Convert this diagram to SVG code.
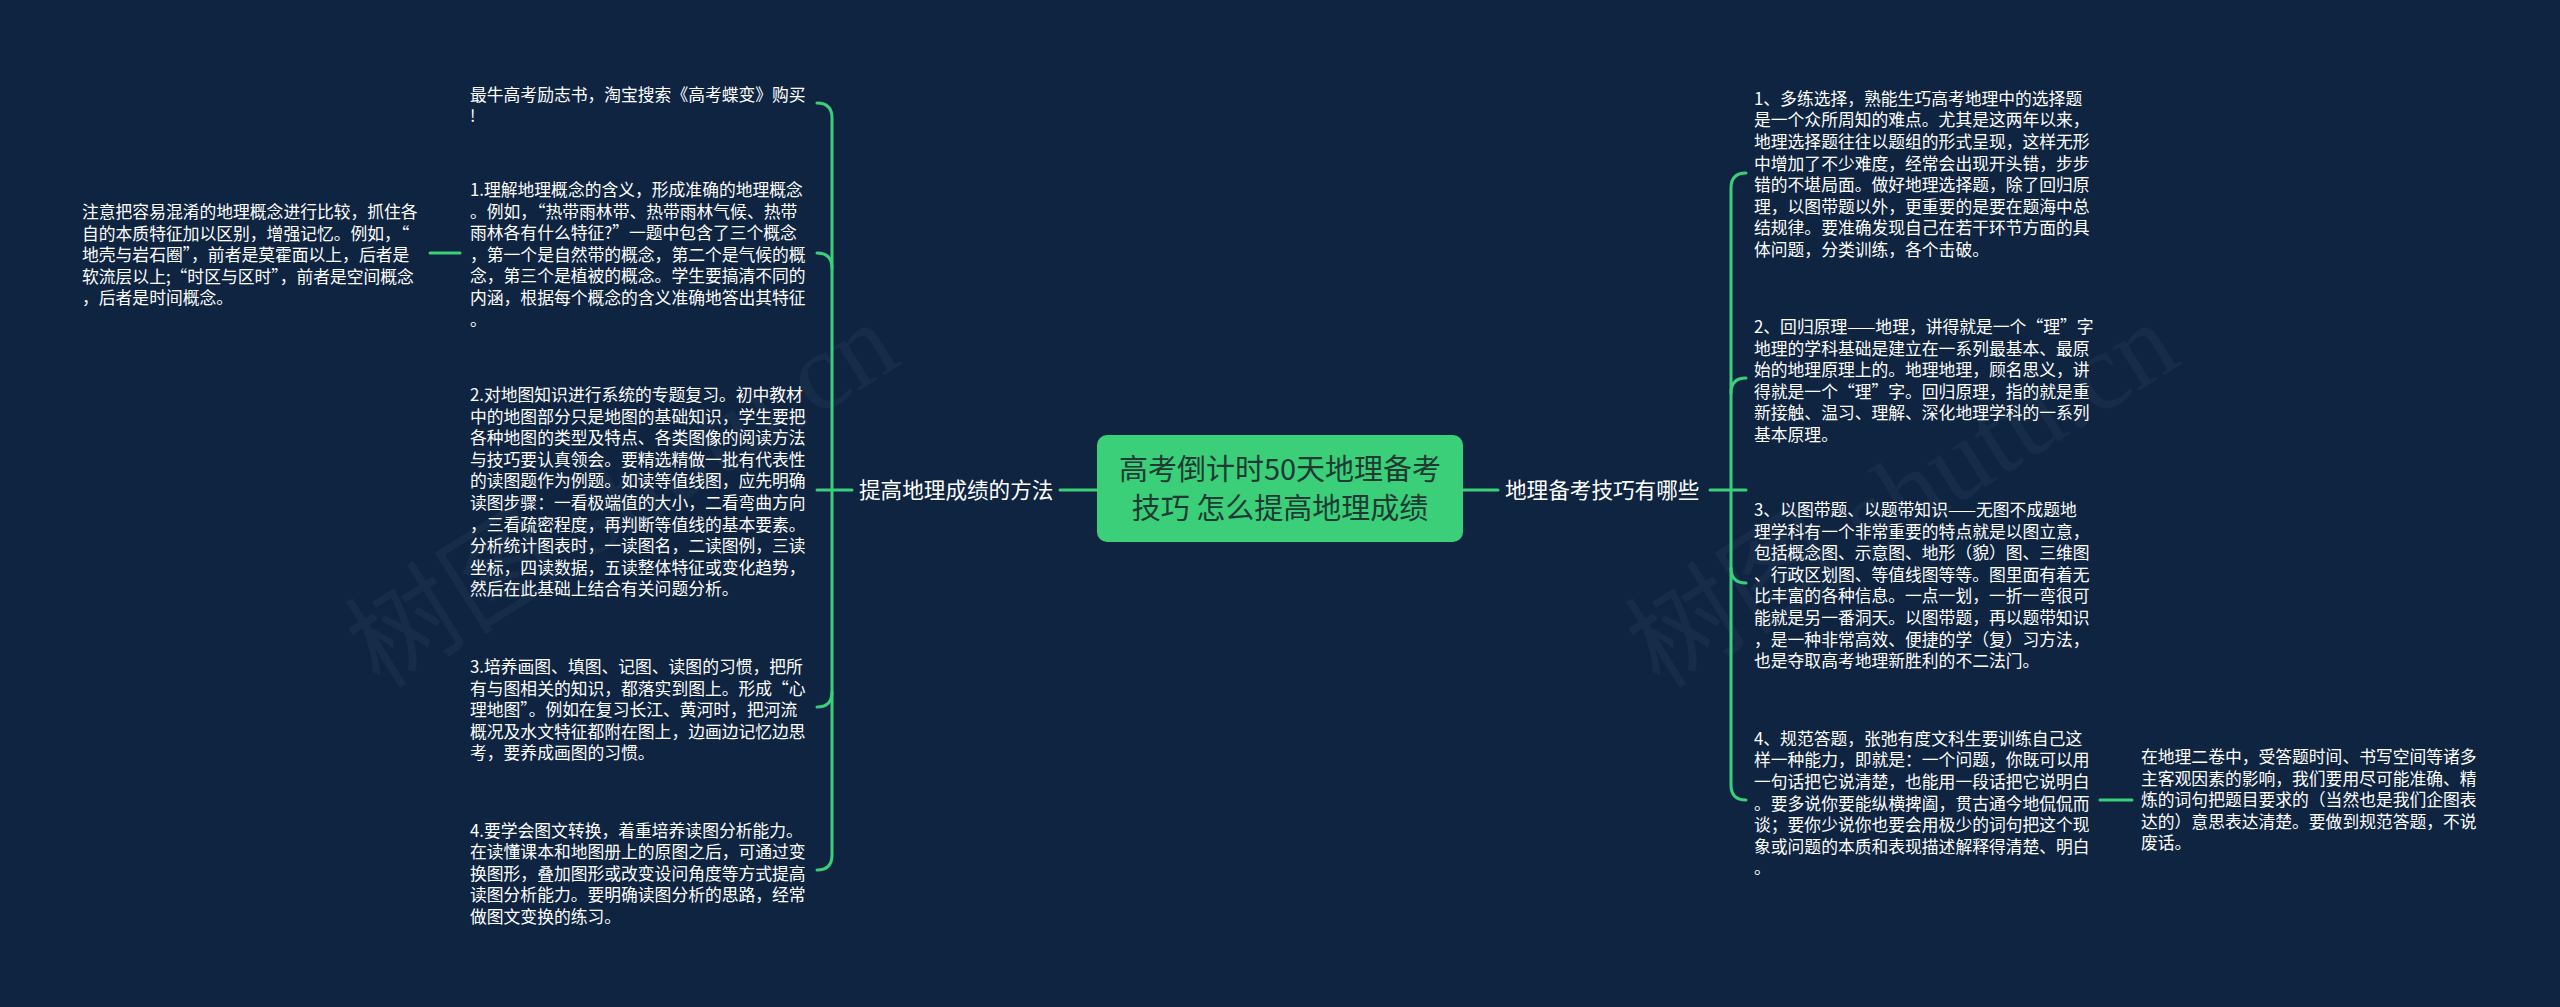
<svg xmlns="http://www.w3.org/2000/svg" width="2560" height="1007" viewBox="0 0 2560 1007">
<style>
.bg{fill:#0e2441}
.ln{fill:none;stroke:#3bcf79;stroke-width:3;stroke-linecap:round}
.t{font-family:"Noto Sans CJK SC","Noto Sans",sans-serif;font-size:16.8px;fill:#ffffff}
.lb{font-family:"Noto Sans CJK SC","Noto Sans",sans-serif;font-size:21.6px;fill:#ffffff}
.ct{font-family:"Noto Sans CJK SC","Noto Sans",sans-serif;font-size:29px;fill:#1e3a33;text-anchor:middle}
.wm{font-family:"Liberation Serif","Noto Sans CJK SC",serif;font-size:110px;fill:#ffffff;fill-opacity:0.04}
</style>
<rect class="bg" x="0" y="0" width="2560" height="1007"/>
<g id="watermarks">
<text class="wm" transform="translate(380,690) rotate(-32)">树图 shutu.cn</text>
<text class="wm" transform="translate(1660,690) rotate(-32)">树图 shutu.cn</text>
</g>
<g id="connectors">
<line class="ln" x1="1060" y1="490" x2="1097" y2="490"/>
<line class="ln" x1="817" y1="490" x2="852" y2="490"/>
<path class="ln" d="M817,103 Q832,103 832,118 L832,855 Q832,870 817,870"/>
<path class="ln" d="M817,253 Q832,253 832,268"/>
<path class="ln" d="M817,707 Q832,707 832,692"/>
<line class="ln" x1="430" y1="253" x2="460" y2="253"/>
<line class="ln" x1="1463" y1="490" x2="1498" y2="490"/>
<line class="ln" x1="1710" y1="490" x2="1746" y2="490"/>
<path class="ln" d="M1746,173 Q1731,173 1731,188 L1731,785 Q1731,800 1746,800"/>
<path class="ln" d="M1746,378 Q1731,378 1731,393"/>
<path class="ln" d="M1746,583 Q1731,583 1731,568"/>
<line class="ln" x1="2100" y1="800" x2="2132" y2="800"/>
</g>
<g id="root">
<rect x="1097" y="435" width="366" height="107" rx="10" fill="#3bcf79"/>
<text class="ct" x="1280" y="479.5">高考倒计时50天地理备考</text>
<text class="ct" x="1280" y="518.5">技巧 怎么提高地理成绩</text>
</g>
<g id="branch-left">
<text class="lb" x="859" y="498">提高地理成绩的方法</text>
</g>
<g id="branch-right">
<text class="lb" x="1505" y="498">地理备考技巧有哪些</text>
</g>
<g id="left-0">
<text class="t" x="470" y="100.5"><tspan x="470">最牛高考励志书，淘宝搜索《高考蝶变》购买</tspan><tspan x="470" dy="21.6">!</tspan></text>
</g>
<g id="left-1">
<text class="t" x="470" y="196"><tspan x="470">1.理解地理概念的含义，形成准确的地理概念</tspan><tspan x="470" dy="21.6">。例如，“热带雨林带、热带雨林气候、热带</tspan><tspan x="470" dy="21.6">雨林各有什么特征?”一题中包含了三个概念</tspan><tspan x="470" dy="21.6">，第一个是自然带的概念，第二个是气候的概</tspan><tspan x="470" dy="21.6">念，第三个是植被的概念。学生要搞清不同的</tspan><tspan x="470" dy="21.6">内涵，根据每个概念的含义准确地答出其特征</tspan><tspan x="470" dy="21.6">。</tspan></text>
</g>
<g id="left-1-1">
<text class="t" x="82" y="218"><tspan x="82">注意把容易混淆的地理概念进行比较，抓住各</tspan><tspan x="82" dy="21.6">自的本质特征加以区别，增强记忆。例如，“</tspan><tspan x="82" dy="21.6">地壳与岩石圈”，前者是莫霍面以上，后者是</tspan><tspan x="82" dy="21.6">软流层以上;“时区与区时”，前者是空间概念</tspan><tspan x="82" dy="21.6">，后者是时间概念。</tspan></text>
</g>
<g id="left-2">
<text class="t" x="470" y="401"><tspan x="470">2.对地图知识进行系统的专题复习。初中教材</tspan><tspan x="470" dy="21.6">中的地图部分只是地图的基础知识，学生要把</tspan><tspan x="470" dy="21.6">各种地图的类型及特点、各类图像的阅读方法</tspan><tspan x="470" dy="21.6">与技巧要认真领会。要精选精做一批有代表性</tspan><tspan x="470" dy="21.6">的读图题作为例题。如读等值线图，应先明确</tspan><tspan x="470" dy="21.6">读图步骤：一看极端值的大小，二看弯曲方向</tspan><tspan x="470" dy="21.6">，三看疏密程度，再判断等值线的基本要素。</tspan><tspan x="470" dy="21.6">分析统计图表时，一读图名，二读图例，三读</tspan><tspan x="470" dy="21.6">坐标，四读数据，五读整体特征或变化趋势，</tspan><tspan x="470" dy="21.6">然后在此基础上结合有关问题分析。</tspan></text>
</g>
<g id="left-3">
<text class="t" x="470" y="673"><tspan x="470">3.培养画图、填图、记图、读图的习惯，把所</tspan><tspan x="470" dy="21.6">有与图相关的知识，都落实到图上。形成“心</tspan><tspan x="470" dy="21.6">理地图”。例如在复习长江、黄河时，把河流</tspan><tspan x="470" dy="21.6">概况及水文特征都附在图上，边画边记忆边思</tspan><tspan x="470" dy="21.6">考，要养成画图的习惯。</tspan></text>
</g>
<g id="left-4">
<text class="t" x="470" y="836.5"><tspan x="470">4.要学会图文转换，着重培养读图分析能力。</tspan><tspan x="470" dy="21.6">在读懂课本和地图册上的原图之后，可通过变</tspan><tspan x="470" dy="21.6">换图形，叠加图形或改变设问角度等方式提高</tspan><tspan x="470" dy="21.6">读图分析能力。要明确读图分析的思路，经常</tspan><tspan x="470" dy="21.6">做图文变换的练习。</tspan></text>
</g>
<g id="right-1">
<text class="t" x="1754" y="104.7"><tspan x="1754">1、多练选择，熟能生巧高考地理中的选择题</tspan><tspan x="1754" dy="21.6">是一个众所周知的难点。尤其是这两年以来，</tspan><tspan x="1754" dy="21.6">地理选择题往往以题组的形式呈现，这样无形</tspan><tspan x="1754" dy="21.6">中增加了不少难度，经常会出现开头错，步步</tspan><tspan x="1754" dy="21.6">错的不堪局面。做好地理选择题，除了回归原</tspan><tspan x="1754" dy="21.6">理，以图带题以外，更重要的是要在题海中总</tspan><tspan x="1754" dy="21.6">结规律。要准确发现自己在若干环节方面的具</tspan><tspan x="1754" dy="21.6">体问题，分类训练，各个击破。</tspan></text>
</g>
<g id="right-2">
<text class="t" x="1754" y="333"><tspan x="1754">2、回归原理——地理，讲得就是一个“理”字</tspan><tspan x="1754" dy="21.6">地理的学科基础是建立在一系列最基本、最原</tspan><tspan x="1754" dy="21.6">始的地理原理上的。地理地理，顾名思义，讲</tspan><tspan x="1754" dy="21.6">得就是一个“理”字。回归原理，指的就是重</tspan><tspan x="1754" dy="21.6">新接触、温习、理解、深化地理学科的一系列</tspan><tspan x="1754" dy="21.6">基本原理。</tspan></text>
</g>
<g id="right-3">
<text class="t" x="1754" y="516"><tspan x="1754">3、以图带题、以题带知识——无图不成题地</tspan><tspan x="1754" dy="21.6">理学科有一个非常重要的特点就是以图立意，</tspan><tspan x="1754" dy="21.6">包括概念图、示意图、地形（貌）图、三维图</tspan><tspan x="1754" dy="21.6">、行政区划图、等值线图等等。图里面有着无</tspan><tspan x="1754" dy="21.6">比丰富的各种信息。一点一划，一折一弯很可</tspan><tspan x="1754" dy="21.6">能就是另一番洞天。以图带题，再以题带知识</tspan><tspan x="1754" dy="21.6">，是一种非常高效、便捷的学（复）习方法，</tspan><tspan x="1754" dy="21.6">也是夺取高考地理新胜利的不二法门。</tspan></text>
</g>
<g id="right-4">
<text class="t" x="1754" y="744.7"><tspan x="1754">4、规范答题，张弛有度文科生要训练自己这</tspan><tspan x="1754" dy="21.6">样一种能力，即就是：一个问题，你既可以用</tspan><tspan x="1754" dy="21.6">一句话把它说清楚，也能用一段话把它说明白</tspan><tspan x="1754" dy="21.6">。要多说你要能纵横捭阖，贯古通今地侃侃而</tspan><tspan x="1754" dy="21.6">谈；要你少说你也要会用极少的词句把这个现</tspan><tspan x="1754" dy="21.6">象或问题的本质和表现描述解释得清楚、明白</tspan><tspan x="1754" dy="21.6">。</tspan></text>
</g>
<g id="right-4-1">
<text class="t" x="2141" y="763"><tspan x="2141">在地理二卷中，受答题时间、书写空间等诸多</tspan><tspan x="2141" dy="21.6">主客观因素的影响，我们要用尽可能准确、精</tspan><tspan x="2141" dy="21.6">炼的词句把题目要求的（当然也是我们企图表</tspan><tspan x="2141" dy="21.6">达的）意思表达清楚。要做到规范答题，不说</tspan><tspan x="2141" dy="21.6">废话。</tspan></text>
</g>
</svg>
